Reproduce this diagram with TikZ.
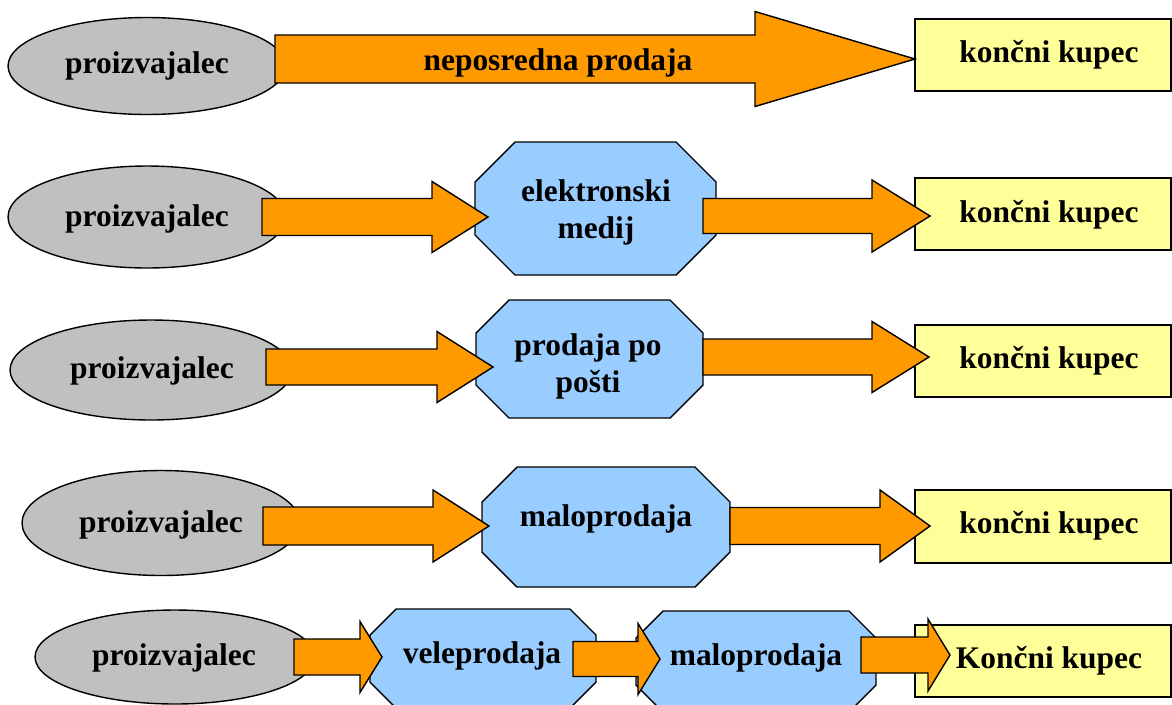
\documentclass[tikz,border=0pt]{standalone}
\usepackage{fontspec}
\setmainfont{Liberation Serif}
\usetikzlibrary{shapes.geometric}

\definecolor{flowfill}{HTML}{FF9900}
\definecolor{makerfill}{HTML}{C0C0C0}
\definecolor{channelfill}{HTML}{99CCFF}
\definecolor{buyerfill}{HTML}{FFFF99}

\tikzset{
  txt/.style={font=\fontsize{17.9}{21}\selectfont\bfseries, align=center, inner sep=0pt, yshift=-0.05cm},
  producer/.style={ellipse, draw, fill=makerfill, line width=0.8pt, inner sep=0pt},
  buyer/.style={rectangle, draw, fill=buyerfill, line width=0.8pt, inner sep=0pt},
  channel/.style={draw, fill=channelfill, line width=0.8pt, line join=miter},
  flow/.style={draw, fill=flowfill, line width=0.8pt, line join=miter},
}

% octagon with cut corners: name, left, top, right, bottom, corner cut
\newcommand\channelbox[6]{%
  \draw[channel] ({#2+#6},#3) -- ({#4-#6},#3) -- (#4,{#3+#6}) -- (#4,{#5-#6})
    -- ({#4-#6},#5) -- ({#2+#6},#5) -- (#2,{#5-#6}) -- (#2,{#3+#6}) -- cycle;
  \coordinate (#1) at ({(#2+#4)/2},{(#3+#5)/2});}

% block arrow: shaft start, head base, tip, centre line, half shaft, half head
\newcommand\flowarrow[6]{%
  \draw[flow] (#1,{#4-#5}) -- (#2,{#4-#5}) -- (#2,{#4-#6}) -- (#3,#4)
    -- (#2,{#4+#6}) -- (#2,{#4+#5}) -- (#1,{#4+#5}) -- cycle;}

\begin{document}
\begin{tikzpicture}[x=0.02cm,y=-0.02cm]
\useasboundingbox (0,0) rectangle (1172,704);
\fill[white] (0,0) rectangle (1172,704);
\clip (0,0) rectangle (1172,704);

% producers
\node[producer, minimum width=5.56cm, minimum height=1.94cm] (p1) at (147,66) {};
\node[producer, minimum width=5.56cm, minimum height=2.04cm] (p2) at (147,217) {};
\node[producer, minimum width=5.64cm, minimum height=2.0cm] (p3) at (151,370) {};
\node[producer, minimum width=5.56cm, minimum height=2.1cm] (p4) at (161,523) {};
\node[producer, minimum width=5.6cm, minimum height=1.88cm] (p5) at (175,657) {};
\node[txt] (p1t) at (147,63) {proizvajalec};
\node[txt] (p2t) at (147,216) {proizvajalec};
\node[txt] (p3t) at (152,368) {proizvajalec};
\node[txt] (p4t) at (161,522) {proizvajalec};
\node[txt] (p5t) at (174,655) {proizvajalec};

% intermediaries
\channelbox{c2}{475}{142}{716}{275}{40}
\channelbox{c3}{476}{300}{703}{418}{33}
\channelbox{c4}{482}{467}{730}{587}{35}
\channelbox{c5a}{370}{609}{596}{708}{26}
\channelbox{c5b}{636}{611}{876}{712}{27}
\node[txt] (c2t) at (596,210) {elektronski\\medij};
\node[txt] (c3t) at (588,364) {prodaja po\\pošti};
\node[txt] (c4t) at (606,516) {maloprodaja};
\node[txt] (c5at) at (482,653) {veleprodaja};
\node[txt] (c5bt) at (756,655) {maloprodaja};

% final buyers
\node[buyer, minimum width=5.12cm, minimum height=1.44cm] (b1) at (1043,55) {};
\node[buyer, minimum width=5.12cm, minimum height=1.44cm] (b2) at (1043,214) {};
\node[buyer, minimum width=5.12cm, minimum height=1.44cm] (b3) at (1043,361) {};
\node[buyer, minimum width=5.12cm, minimum height=1.46cm] (b4) at (1043,526.5) {};
\node[buyer, minimum width=5.12cm, minimum height=1.44cm] (b5) at (1043,661) {};
\node[txt] (b1t) at (1049,52) {končni kupec};
\node[txt] (b2t) at (1049,212) {končni kupec};
\node[txt] (b3t) at (1049,358) {končni kupec};
\node[txt] (b4t) at (1049,523) {končni kupec};
\node[txt] (b5t) at (1049,658) {Končni kupec};

% flows
\flowarrow{275}{755}{915}{59}{24}{47.5}
\node[txt] (direct) at (558,60) {neposredna prodaja};
\flowarrow{262}{432}{488}{217}{18.5}{35.5}
\flowarrow{703}{872}{930}{216}{17.5}{36}
\flowarrow{266}{437}{493}{367}{18}{35.5}
\flowarrow{703}{872}{929}{357}{18}{35.5}
\flowarrow{263}{433}{489}{526}{19}{36}
\flowarrow{730}{880}{930}{526}{18.5}{36}
\flowarrow{294}{360}{382}{657}{18}{35.5}
\flowarrow{573}{638}{660}{659}{17.5}{35.5}
\flowarrow{861}{928}{950}{655}{18}{36}
\end{tikzpicture}
\end{document}
